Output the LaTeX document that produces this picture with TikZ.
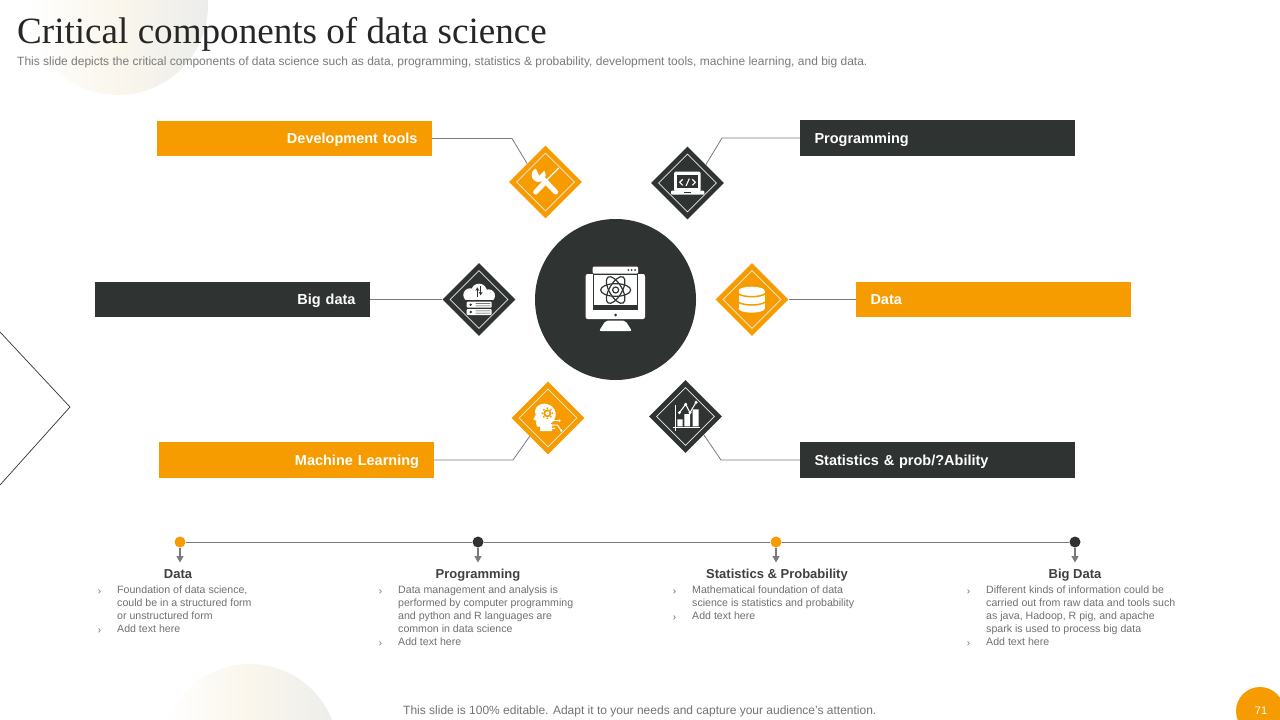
\documentclass[tikz,border=0pt]{standalone}
\usepackage{fontspec}
\setmainfont{Liberation Sans}
\newfontfamily\serifttl{Liberation Serif}
\usetikzlibrary{shapes.geometric,shadings,arrows.meta}
\definecolor{org}{HTML}{F69C00}
\definecolor{drk}{HTML}{2F3331}
\definecolor{lin}{HTML}{7A7A7A}
\definecolor{bodyc}{HTML}{707070}
\definecolor{headc}{HTML}{404040}
\definecolor{creamm}{HTML}{FAF6EC}
\definecolor{greyr}{HTML}{ECEDEB}
\newcommand{\bartext}[1]{\raisebox{-5pt}[0pt][0pt]{#1}}
\tikzset{
 barbox/.style={minimum width=275pt,minimum height=35.5pt,inner xsep=14.5pt,inner ysep=0pt,text width=246pt,text=white,font=\fontsize{14.5}{16}\selectfont\bfseries},
 orgbar/.style={barbox,fill=org},
 drkbar/.style={barbox,fill=drk},
 diam/.style={diamond,aspect=1,minimum size=73pt,inner sep=0pt},
 orgd/.style={diam,fill=org},
 drkd/.style={diam,fill=drk},
 indiam/.style={diamond,aspect=1,minimum size=58pt,inner sep=0pt,draw=white!85!gray,line width=0.6pt},
 conn/.style={draw=lin,line width=0.8pt},
 tl/.style={draw=lin,line width=1pt},
 dot/.style={circle,minimum size=11pt,inner sep=0pt},
 drop/.style={draw=lin,line width=1.1pt,-{Triangle[length=6.5pt,width=7pt]}},
 hd/.style={font=\fontsize{13}{15}\selectfont\bfseries,text=headc,anchor=base,inner sep=0pt},
 bd/.style={font=\fontsize{10.6}{13}\selectfont,text=bodyc,anchor=north west,inner sep=0pt,align=left},
 bl/.style={font=\fontsize{10}{13}\selectfont,text=bodyc,anchor=base,inner sep=0pt},
 icn/.style={shift={(440,130)},x=0.33333pt,y=-0.33333pt},
}
\begin{document}
\begin{tikzpicture}[x=1pt,y=-1pt]
\useasboundingbox (0,0) rectangle (1280,720);
\clip (0,0) rectangle (1280,720);
\fill[white] (0,0) rectangle (1280,720);
% decorative
\shade[left color=white,right color=greyr,middle color=creamm] (118,5) circle[radius=90];
\shade[left color=white,right color=greyr,middle color=creamm] (250,752) circle[radius=88];
\draw[drk,line width=0.7pt] (0,332) -- (70,407) -- (0,485);
% title
\node[font=\serifttl\fontsize{37.1}{40}\selectfont,text=black!85,anchor=base west,inner sep=0pt] (ttl) at (17,43) {Critical components of data science};
\node[font=\fontsize{12}{14}\selectfont,text=black!52,anchor=base west,inner sep=0pt] (sub) at (17,65) {This slide depicts the critical components of data science such as data, programming, statistics \& probability, development tools, machine learning, and big data.};
% bars
\node[orgbar,align=right] (bdev) at (294.5,138.5) {\bartext{Development tools}};
\node[drkbar,align=left] (bprog) at (937.5,138) {\bartext{Programming}};
\node[drkbar,align=right] (bbig) at (232.5,299.5) {\bartext{Big data}};
\node[orgbar,align=left] (bdata) at (993.5,299.5) {\bartext{Data}};
\node[orgbar,align=right] (bml) at (296,460) {\bartext{Machine Learning}};
\node[drkbar,align=left] (bstat) at (937.5,460) {\bartext{Statistics \& prob/?Ability}};
% hubs
\node[circle,fill=drk,minimum size=161pt,inner sep=0pt] (hub) at (615.5,299.5) {};
\node[orgd] (dtools) at (545.5,182) {};
\node[drkd] (dprog) at (687.5,183) {};
\node[drkd] (dbig) at (479,299.5) {};
\node[orgd] (ddata) at (752,299.5) {};
\node[orgd] (dml) at (548,418) {};
\node[drkd] (dstat) at (685.5,416.5) {};
\node[indiam] (i1) at (dtools) {};
\node[indiam] (i2) at (dprog) {};
\node[indiam] (i3) at (dbig) {};
\node[indiam] (i4) at (ddata) {};
\node[indiam] (i5) at (dml) {};
\node[indiam] (i6) at (dstat) {};
% connectors
\coordinate (c1) at (512,138.5);
\coordinate (c2) at (722,138);
\coordinate (c3) at (513,460);
\coordinate (c4) at (721,460);
\draw[conn] (bdev.east) -- (c1) -- (dtools.north west);
\draw[conn] (bprog.west) -- (c2) -- (dprog.north east);
\draw[conn] (bbig.east) -- (dbig.west);
\draw[conn] (bdata.west) -- (ddata.east);
\draw[conn] (bml.east) -- (c3) -- (dml.south west);
\draw[conn] (bstat.west) -- (c4) -- (dstat.south east);
% ICONS (coordinates in crop units)
\begin{scope}[icn]
% hub monitor
\fill[white,rounded corners=2pt] (437,432) rectangle (615,567);
\fill[white,rounded corners=1pt] (458,410) rectangle (594,431);
\foreach \u in {565,575,585} \fill[drk] (\u,420) circle[radius=3];
\fill[drk] (458,525) rectangle (594,541);
\draw[drk,line width=0.8pt] (460,432) rectangle (592,525);
\fill[drk] (527,555) circle[radius=4.5];
\fill[white,rounded corners=2pt] (497,572) -- (556,572) -- (576,603) -- (477,603) -- cycle;
\draw[drk,line width=1.2pt] (527,480) ellipse[x radius=45,y radius=19];
\draw[drk,line width=1.2pt,rotate around={60:(527,480)}] (527,480) ellipse[x radius=45,y radius=19];
\draw[drk,line width=1.2pt,rotate around={-60:(527,480)}] (527,480) ellipse[x radius=45,y radius=19];
\draw[drk,line width=1.2pt] (527,480) circle[radius=9];
% tools
\draw[white,line width=1.2pt] (356,114) -- (320,150);
\draw[white,line width=5pt,line cap=round] (316,156) -- (287,186);
\draw[white,line width=5pt,line cap=round] (303,140) -- (347,186);
\fill[white] (296,135) circle[radius=21];
\fill[org] (298,137) -- (285,110) -- (318,116) -- cycle;
% laptop
\fill[white,rounded corners=1.5pt] (702,125) rectangle (782,184);
\fill[drk] (710,135) rectangle (775,175);
\fill[white,rounded corners=1pt] (693,182) rectangle (793,194);
\fill[drk] (733,186) rectangle (752,189);
\draw[white,line width=1.1pt] (728,148) -- (719,157) -- (728,166) (757,148) -- (766,157) -- (757,166) (748,146) -- (738,168);
% big data
\fill[white] (90,495) circle[radius=20] (117,485) circle[radius=24] (146,497) circle[radius=19];
\fill[white] (85,495) rectangle (150,513);
\fill[drk] (78,510) rectangle (158,515);
\fill[white,rounded corners=1pt] (80,515) rectangle (155,533) (80,537) rectangle (155,555);
\foreach \v in {524,546} {\fill[drk] (92,\v) circle[radius=4];
  \fill[drk] (107,\v-4) rectangle (151,\v-2.5) (107,\v+2.5) rectangle (151,\v+4);}
\draw[drk,line width=0.9pt,-{Stealth[length=3.5pt,width=4pt]}] (112,500) -- (112,472);
\draw[drk,line width=0.9pt,-{Stealth[length=3.5pt,width=4pt]}] (122,468) -- (122,496);
% database
\fill[white] (935,482) ellipse[x radius=39,y radius=12];
\fill[white] (935,536) ellipse[x radius=39,y radius=12];
\fill[white] (896,482) rectangle (974,536);
\draw[org,line width=1.5pt] (894,491) .. controls (910,503) and (960,503) .. (976,491);
\draw[org,line width=1.5pt] (894,516) .. controls (910,528) and (960,528) .. (976,516);
% ML head
\fill[white] (305,822) .. controls (327,817) and (349,833) .. (347,855) .. controls (347,866) and (338,872) .. (336,878) -- (336,903) -- (300,903) -- (300,890) -- (291,890) .. controls (288,882) and (288,877) .. (289,873) -- (280,868) -- (287,855) .. controls (281,840) and (290,825) .. (305,822) -- cycle;
\fill[org] (322,850) circle[radius=12];
\fill[white] (322,850) circle[radius=6];
\foreach \a in {0,45,...,315} \fill[org] (322,850) ++(\a:15) circle[radius=3];
\draw[org,line width=0.9pt] (333,880) -- (345,880);
\draw[white,line width=1pt] (333,872) -- (358,872) (333,885) -- (352,885) -- (364,902) (333,895) -- (345,895);
\fill[white] (358,872) circle[radius=4] (364,902) circle[radius=4];
% stats
\draw[white,line width=1pt] (706,825) -- (706,902) (698,892) -- (779,892);
\fill[white] (712,868) rectangle (728,889) (733,852) rectangle (750,889) (758,838) rectangle (776,889);
\draw[white,line width=1.1pt] (718,848) -- (737,823) -- (750,848) -- (768,817);
\fill[white] (718,848) circle[radius=5] (737,823) circle[radius=5] (750,848) circle[radius=5] (768,817) circle[radius=5];
\end{scope}
% timeline
\node[dot,fill=org] (t1) at (180,542) {};
\node[dot,fill=drk] (t2) at (478,542) {};
\node[dot,fill=org] (t3) at (776,542) {};
\node[dot,fill=drk] (t4) at (1075,542) {};
\draw[tl] (t1) -- (t2);
\draw[tl] (t2) -- (t3);
\draw[tl] (t3) -- (t4);
\coordinate (a1) at (180,562.5);
\coordinate (a2) at (478,562.5);
\coordinate (a3) at (776,562.5);
\coordinate (a4) at (1075,562.5);
\draw[drop] (t1.south) -- (a1);
\draw[drop] (t2.south) -- (a2);
\draw[drop] (t3.south) -- (a3);
\draw[drop] (t4.south) -- (a4);
\node[hd] (h1) at (178,578) {Data};
\node[hd] (h2) at (478,578) {Programming};
\node[hd] (h3) at (777,578) {Statistics \& Probability};
\node[hd] (h4) at (1075,578) {Big Data};
% bodies
\node[bd] (p1) at (117,586) {Foundation of data science,\\could be in a structured form\\or unstructured form\\Add text here};
\node[bd] (p2) at (398,586) {Data management and analysis is\\performed by computer programming\\and python and R languages are\\common in data science\\Add text here};
\node[bd] (p3) at (692,586) {Mathematical foundation of data\\science is statistics and probability\\Add text here};
\node[bd] (p4) at (986,586) {Different kinds of information could be\\carried out from raw data and tools such\\as java, Hadoop, R pig, and apache\\spark is used to process big data\\Add text here};
\node[bl] (b11) at (99.5,594) {›};
\node[bl] (b12) at (99.5,633) {›};
\node[bl] (b21) at (380.5,594) {›};
\node[bl] (b22) at (380.5,646) {›};
\node[bl] (b31) at (674.5,594) {›};
\node[bl] (b32) at (674.5,620) {›};
\node[bl] (b41) at (968.5,594) {›};
\node[bl] (b42) at (968.5,646) {›};
% footer
\node[font=\fontsize{12}{14}\selectfont,text=black!55,anchor=base west,inner sep=0pt] (foot) at (403,714) {This slide is 100\% editable. Adapt it to your needs and capture your audience's attention.};
\node[circle,fill=org,minimum size=48pt,inner sep=0pt] (pg) at (1260,711) {};
\node[font=\fontsize{11}{13}\selectfont,text=white,inner sep=0pt] (pgn) at (1261,711) {71};
\end{tikzpicture}
\end{document}
